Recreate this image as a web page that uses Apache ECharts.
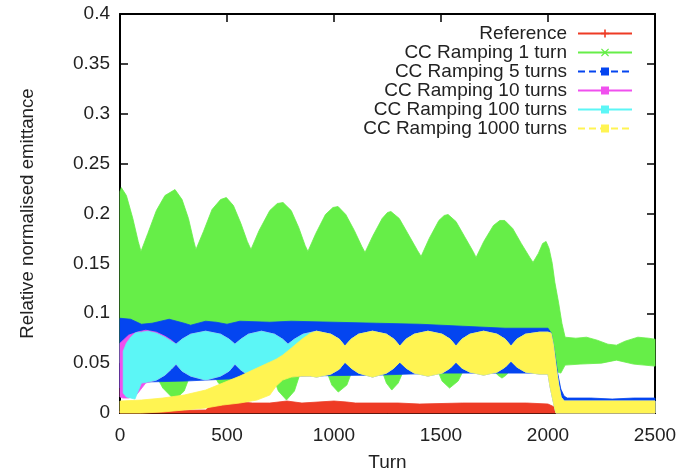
<!DOCTYPE html>
<html><head><meta charset="utf-8">
<script src="https://cdn.jsdelivr.net/npm/echarts@6/dist/echarts.min.js"></script>
<style>html,body{margin:0;padding:0;background:#fff}#c{width:687px;height:473px}</style>
</head><body><div id="c"></div>
<script>
// ---------- DATA ----------
const legendNames = ['Reference','CC Ramping 1 turn','CC Ramping 5 turns','CC Ramping 10 turns','CC Ramping 100 turns','CC Ramping 1000 turns'];
const xTicks = [0, 500, 1000, 1500, 2000, 2500];
const yTicks = [0, 0.05, 0.1, 0.15, 0.2, 0.25, 0.3, 0.35, 0.4];

// Reference (band envelope: upper / lower)
const refHighTurns = [0,400,440,470,560,620,700,780,850,1000,1060,1100,1300,1400,1600,1900,2000,2030,2045,2060,2500];
const refHigh      = [0.002,0.003,0.010,0.013,0.011,0.010,0.010,0.012,0.010,0.012,0.011,0.010,0.010,0.009,0.010,0.010,0.009,0.006,0.002,0.001,0.001];
const refLowTurns  = [0,2500];
const refLow       = [0,0];

// CC Ramping 1 turn
const g1HighTurns = [0,6,30,60,85,98,130,170,210,257,290,320,345,355,390,430,470,497,530,565,595,612,650,700,735,762,800,835,865,878,915,960,995,1019,1055,1095,1130,1145,1180,1225,1250,1266,1305,1345,1390,1407,1445,1490,1515,1533,1570,1610,1650,1664,1700,1745,1775,1798,1835,1875,1915,1930,1955,1975,1991,2005,2020,2032,2050,2065,2080,2130,2180,2230,2280,2320,2360,2420,2470,2500];
const g1High      = [0.222,0.226,0.218,0.195,0.172,0.162,0.180,0.203,0.218,0.224,0.214,0.195,0.172,0.164,0.182,0.204,0.214,0.216,0.208,0.190,0.172,0.164,0.183,0.203,0.210,0.211,0.203,0.186,0.168,0.162,0.180,0.199,0.206,0.207,0.199,0.183,0.167,0.161,0.177,0.195,0.201,0.202,0.195,0.180,0.163,0.157,0.175,0.193,0.198,0.199,0.192,0.177,0.162,0.156,0.172,0.188,0.193,0.193,0.185,0.170,0.156,0.151,0.160,0.170,0.172,0.165,0.150,0.131,0.110,0.090,0.076,0.075,0.076,0.073,0.069,0.068,0.072,0.076,0.075,0.074];
const g1LowTurns  = [0,150,200,255,300,340,420,460,497,530,570,700,740,778,815,850,960,990,1020,1060,1090,1220,1245,1270,1300,1330,1480,1505,1540,1580,1610,1740,1765,1785,1805,1830,2000,2030,2060,2080,2150,2250,2320,2400,2500];
const g1Low       = [0.050,0.045,0.025,0.013,0.022,0.045,0.045,0.030,0.024,0.032,0.045,0.045,0.022,0.013,0.022,0.045,0.045,0.028,0.021,0.028,0.045,0.045,0.030,0.023,0.030,0.045,0.045,0.032,0.025,0.032,0.045,0.045,0.038,0.035,0.038,0.045,0.045,0.042,0.040,0.048,0.049,0.050,0.053,0.049,0.047];

// CC Ramping 5 turns
const b5HighTurns = [0,50,100,150,230,300,330,400,450,500,560,700,800,1000,1200,1400,1600,1800,2000,2015,2030,2045,2060,2075,2090,2200,2300,2400,2500];
const b5High      = [0.095,0.094,0.089,0.090,0.094,0.090,0.088,0.092,0.091,0.089,0.092,0.091,0.092,0.091,0.090,0.089,0.087,0.085,0.085,0.080,0.062,0.040,0.024,0.017,0.015,0.015,0.014,0.015,0.015];
const b5LowTurns  = [0,50,100,300,500,800,1200,1500,2000,2012,2025,2040,2500];
const b5Low       = [0.025,0.028,0.031,0.032,0.034,0.037,0.038,0.040,0.040,0.028,0.013,0.010,0.010];

// common bunch envelope once the ramp is over (lens shape), then the drop after turn 2000
const lensTurns = [262,290,330,400,470,510,537,565,600,661,722,760,785,815,855,918,985,1025,1051,1080,1115,1180,1245,1280,1308,1337,1375,1439,1505,1543,1570,1598,1635,1699,1762,1800,1827,1855,1895,1960,2000];
const lensHigh  = [0.069,0.074,0.079,0.082,0.079,0.074,0.069,0.074,0.079,0.082,0.079,0.074,0.069,0.074,0.079,0.082,0.079,0.074,0.067,0.074,0.079,0.082,0.079,0.074,0.067,0.074,0.079,0.082,0.079,0.074,0.067,0.074,0.079,0.082,0.079,0.074,0.067,0.074,0.079,0.081,0.081];
const lensLow   = [0.049,0.042,0.037,0.033,0.037,0.042,0.049,0.043,0.038,0.034,0.038,0.043,0.050,0.044,0.039,0.036,0.039,0.044,0.051,0.045,0.040,0.036,0.040,0.045,0.051,0.045,0.040,0.037,0.040,0.045,0.051,0.045,0.041,0.038,0.041,0.046,0.052,0.046,0.041,0.039,0.039];
const dropHighTurns = [2014,2025,2038,2050,2061,2075,2500];
const dropHigh      = [0.080,0.068,0.046,0.028,0.016,0.012,0.012];
const dropLowTurns  = [2010,2020,2030,2037,2500];
const dropLow       = [0.026,0.016,0.006,0.000,0.000];

// CC Ramping 10 turns: ramp part
const m10Turns = [0,15,40,80,120,170,210,240];
const m10High  = [0.070,0.073,0.078,0.081,0.083,0.081,0.077,0.073];
const m10Low   = [0.016,0.015,0.015,0.019,0.030,0.033,0.038,0.044];
// CC Ramping 100 turns: ramp part
const c100Turns = [15,30,50,70,85,100,130,170,210,240];
const c100High  = [0.062,0.070,0.076,0.080,0.081,0.081,0.082,0.080,0.076,0.072];
const c100Low   = [0.020,0.016,0.015,0.014,0.022,0.030,0.031,0.033,0.038,0.044];
// CC Ramping 1000 turns: ramp part
const y1000Turns = [0,100,200,300,400,480,560,640,700,730,760,800,850,890];
const y1000High  = [0.012,0.013,0.015,0.018,0.023,0.030,0.037,0.045,0.051,0.054,0.058,0.065,0.074,0.080];
const y1000Low   = [0.000,0.000,0.001,0.003,0.005,0.008,0.010,0.013,0.018,0.027,0.033,0.036,0.037,0.037];

// ---------- BUILD ----------
const colors = ['#ee3b25','#66ee48','#0445f0','#f050ee','#5cf6f6','#fff452'];
function withLens(rT, rH, rL, fromTurn) {
  const idx = lensTurns.map((t,i)=>i).filter(i => lensTurns[i] >= fromTurn);
  return {
    hiT: rT.concat(idx.map(i=>lensTurns[i]), dropHighTurns),
    hi:  rH.concat(idx.map(i=>lensHigh[i]), dropHigh),
    loT: rT.concat(idx.map(i=>lensTurns[i]), dropLowTurns),
    lo:  rL.concat(idx.map(i=>lensLow[i]), dropLow)
  };
}
const bands = [
  {hiT: refHighTurns, hi: refHigh, loT: refLowTurns, lo: refLow},
  {hiT: g1HighTurns, hi: g1High, loT: g1LowTurns, lo: g1Low},
  {hiT: b5HighTurns, hi: b5High, loT: b5LowTurns, lo: b5Low},
  withLens(m10Turns, m10High, m10Low, 262),
  withLens(c100Turns, c100High, c100Low, 262),
  withLens(y1000Turns, y1000High, y1000Low, 900)
];

const font = 'Liberation Sans, Arial, Helvetica, sans-serif';
const series = [];
bands.forEach((b, k) => {
  series.push({
    type: 'custom', name: legendNames[k] + ' envelope', silent: true,
    data: [[0, 0]], encode: {x: 0, y: 1},
    renderItem: function (params, api) {
      const pts = [];
      for (let i = 0; i < b.hiT.length; i++) pts.push(api.coord([b.hiT[i], b.hi[i]]));
      for (let i = b.loT.length - 1; i >= 0; i--) pts.push(api.coord([b.loT[i], b.lo[i]]));
      return {type: 'polygon', shape: {points: pts}, style: {fill: colors[k], stroke: colors[k], lineWidth: 0.8}};
    },
    z: 2 + k * 0.01
  });
});
const symbols = [
  'path://M4,0h2v10h-2z M0,4h10v2h-10z',
  'path://M1,0L5,3.6L9,0L10,1L6.4,5L10,9L9,10L5,6.4L1,10L0,9L3.6,5L0,1z',
  'rect','rect','rect','rect'
];
const dashed = [false,false,true,false,false,true];
legendNames.forEach((n, k) => {
  series.push({
    type: 'line', name: n, data: [], color: colors[k],
    symbol: symbols[k], symbolSize: 8,
    itemStyle: {color: colors[k]},
    lineStyle: {color: colors[k], width: 2.5, type: dashed[k] ? [7, 4] : 'solid'}
  });
});

const axisLineStyle = {color: '#000', width: 2};
const tickStyle = {color: '#000', width: 1.5};
const plain = v => String(v);
const option = {
  animation: false,
  backgroundColor: '#fff',
  grid: {left: 120, right: 32, top: 14, bottom: 60, containLabel: false, outerBoundsMode: 'none'},
  legend: {
    data: legendNames, orient: 'vertical', right: 54, top: 24, align: 'right', padding: 0,
    itemWidth: 54, itemHeight: 10, itemGap: 0, selectedMode: false,
    textStyle: {fontFamily: font, fontSize: 19, lineHeight: 19, color: '#222', padding: [0, 6, 0, 0]}
  },
  xAxis: [
    {type: 'value', min: xTicks[0], max: xTicks[xTicks.length-1], interval: xTicks[1]-xTicks[0], position: 'bottom',
     name: 'Turn', nameLocation: 'middle', nameGap: 40,
     nameTextStyle: {fontFamily: font, fontSize: 19, color: '#222'},
     axisLine: {show: true, onZero: false, lineStyle: axisLineStyle},
     axisTick: {show: true, inside: true, length: 8, lineStyle: tickStyle},
     axisLabel: {fontFamily: font, fontSize: 19, color: '#222', margin: 13, formatter: plain, showMinLabel: true, showMaxLabel: true},
     splitLine: {show: false}},
    {type: 'value', min: xTicks[0], max: xTicks[xTicks.length-1], interval: xTicks[1]-xTicks[0], position: 'top',
     axisLine: {show: true, onZero: false, lineStyle: axisLineStyle},
     axisTick: {show: true, inside: true, length: 8, lineStyle: tickStyle},
     axisLabel: {show: false}, splitLine: {show: false}}
  ],
  yAxis: [
    {type: 'value', min: yTicks[0], max: yTicks[yTicks.length-1], interval: yTicks[1]-yTicks[0], position: 'left',
     name: 'Relative normalised emittance', nameLocation: 'middle', nameGap: 83,
     nameTextStyle: {fontFamily: font, fontSize: 18.7, color: '#222'},
     axisLine: {show: true, onZero: false, lineStyle: axisLineStyle},
     axisTick: {show: true, inside: true, length: 8, lineStyle: tickStyle},
     axisLabel: {fontFamily: font, fontSize: 19, color: '#222', margin: 10, formatter: plain, showMinLabel: true, showMaxLabel: true},
     splitLine: {show: false}},
    {type: 'value', min: yTicks[0], max: yTicks[yTicks.length-1], interval: yTicks[1]-yTicks[0], position: 'right',
     axisLine: {show: true, onZero: false, lineStyle: axisLineStyle},
     axisTick: {show: true, inside: true, length: 8, lineStyle: tickStyle},
     axisLabel: {show: false}, splitLine: {show: false}}
  ],
  series: series
};
const chart = echarts.init(document.getElementById('c'), null, {renderer: 'canvas'});
chart.setOption(option);
</script></body></html>
